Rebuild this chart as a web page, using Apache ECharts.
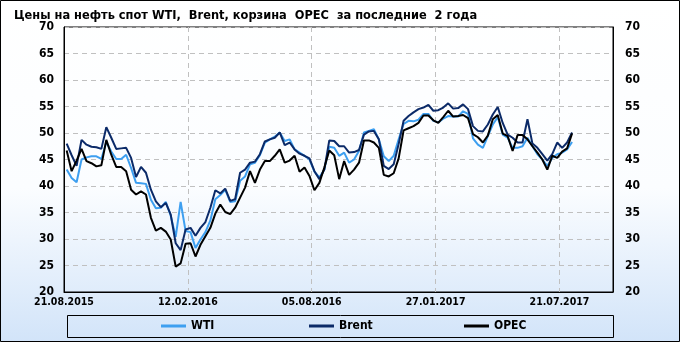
<!DOCTYPE html>
<html><head><meta charset="utf-8">
<script src="https://cdn.jsdelivr.net/npm/echarts@6/dist/echarts.min.js"></script>
<style>html,body{margin:0;padding:0;background:#fff}#c{width:680px;height:342px}</style>
</head><body><div id="c"></div>
<script>
// Weekly spot prices, USD/bbl (first point ~25.08.2015)
const tickLabels = ['21.08.2015','12.02.2016','05.08.2016','27.01.2017','21.07.2017'];
const wti = [43.1,41.5,40.7,45.0,45.4,45.6,45.6,45.1,48.3,46.5,45.1,45.1,45.9,43.4,40.6,40.5,40.4,37.4,35.8,35.9,
  37.0,34.4,30.4,37.0,31.5,31.3,28.3,29.9,31.3,33.5,37.5,38.3,39.3,37.0,37.1,41.0,41.8,44.1,44.4,45.8,
  48.2,48.8,49.3,50.1,48.5,48.8,46.9,46.3,45.7,45.0,42.7,41.6,43.1,47.4,47.2,45.7,46.3,44.4,45.0,46.6,
  50.1,50.4,50.7,48.8,45.6,44.7,45.7,48.8,51.7,52.3,52.2,52.5,53.6,53.6,52.3,52.0,52.7,53.2,53.1,53.1,
  54.1,53.6,49.0,47.8,47.2,49.4,51.6,53.0,49.7,49.1,47.2,47.2,47.5,49.1,47.5,46.0,45.0,43.8,45.3,46.0,
  46.3,46.9,48.3];
const brent = [48.0,45.8,43.8,48.7,47.8,47.4,47.3,47.0,51.1,49.1,47.0,47.1,47.2,45.3,41.7,43.6,42.5,39.3,37.1,36.0,
  36.8,34.6,29.2,27.9,31.8,32.1,30.6,32.1,33.2,35.9,39.2,38.6,39.5,37.2,37.5,42.5,43.1,44.4,44.6,46.0,
  48.4,48.8,49.1,50.1,47.7,48.2,46.9,46.1,45.7,45.2,42.8,41.3,43.1,48.6,48.5,47.5,47.5,46.3,46.4,46.8,
  49.7,50.3,50.4,48.8,43.8,43.2,44.1,47.9,52.3,53.2,53.9,54.5,54.8,55.3,54.2,54.3,54.8,55.6,54.6,54.7,
  55.4,54.5,51.3,50.4,50.3,51.6,53.5,54.9,51.9,49.7,49.1,48.2,48.2,52.6,48.0,47.2,46.0,44.8,46.0,48.2,
  47.2,48.2,50.1];
const opec = [46.7,42.8,44.8,47.0,44.7,44.3,43.7,43.9,48.7,45.9,43.6,43.6,42.8,39.3,38.4,39.0,38.4,34.0,31.6,32.1,
  31.4,29.9,24.8,25.4,29.1,29.2,26.7,28.9,30.5,32.1,34.8,36.5,35.1,34.7,35.9,37.8,39.7,42.8,40.6,43.1,
  44.7,44.7,45.7,46.9,44.4,44.8,45.7,42.7,43.5,41.9,39.2,40.6,43.5,46.7,45.8,41.3,44.7,42.1,43.1,44.4,
  48.6,48.6,48.2,47.2,42.1,41.8,42.4,45.2,50.5,50.9,51.3,51.9,53.3,53.3,52.4,51.9,53.0,54.2,53.1,53.2,
  53.4,52.8,49.8,49.2,48.2,49.5,52.6,53.4,49.9,49.4,46.6,49.6,49.6,48.8,47.5,46.3,45.0,43.1,45.7,45.3,
  46.5,47.1,49.9];
const seriesNames = ['WTI','Brent','OPEC'];
const colors = ['#3d9ff0','#0b2a68','#000000'];

const startOffset = 0.54; // weeks between axis start (21.08.2015) and first observation
const toPairs = arr => arr.map((v, i) => [i + startOffset, v]);

const font = "'DejaVu Sans Condensed','DejaVu Sans',sans-serif";
const chart = echarts.init(document.getElementById('c'), null, {renderer:'canvas'});
const yAxisBase = {
  type:'value', min:20, max:70, interval:5,
  axisLine:{show:true, lineStyle:{color:'#000', width:1}},
  axisTick:{show:false},
  axisLabel:{color:'#000', fontWeight:'bold', fontSize:12, fontFamily:font},
};
chart.setOption({
  animation:false,
  backgroundColor: new echarts.graphic.LinearGradient(0,0,0,1,[
    {offset:0, color:'#ffffff'},{offset:0.55, color:'#fbfdff'},{offset:1, color:'#d2e4f9'}]),
  title:{text:'Цены на нефть спот WTI,  Brent, корзина  OPEC  за последние  2 года',
    left:9, top:4, textStyle:{fontSize:12.7, fontWeight:'bold', color:'#000', fontFamily:"'Liberation Sans Narrow','DejaVu Sans Condensed','DejaVu Sans',sans-serif"}},
  grid:{left:64, right:67, top:27, bottom:50, show:true, borderColor:'#000', borderWidth:1, backgroundColor:'transparent'},
  xAxis:{type:'value', min:0, max:110.8, interval:25,
    axisLine:{show:true, lineStyle:{color:'#000'}}, axisTick:{show:false},
    axisLabel:{color:'#000', fontWeight:'bold', fontSize:10.5, fontFamily:font, margin:5,
      formatter: v => { const k = Math.round(v/25); return (Math.abs(v - k*25) < 1e-6 && tickLabels[k]) ? tickLabels[k] : ''; }},
    splitLine:{show:true, lineStyle:{color:'#c0c0c0', type:[5,4]}}},
  yAxis:[
    Object.assign({}, yAxisBase, {position:'left', axisLabel:Object.assign({}, yAxisBase.axisLabel, {margin:10}),
      splitLine:{show:true, lineStyle:{color:'#c0c0c0', type:[5,4]}}}),
    Object.assign({}, yAxisBase, {position:'right', axisLabel:Object.assign({}, yAxisBase.axisLabel, {margin:12}),
      splitLine:{show:false}})
  ],
  legend: seriesNames.map((n, k) => ({
    data:[n], left:[161,309,464][k], top:320, itemWidth:25, itemHeight:3, icon:'rect',
    textStyle:{color:'#000', fontWeight:'bold', fontSize:12, fontFamily:font}, padding:0
  })),
  graphic:[
    {type:'rect', shape:{x:67.5, y:315.5, width:546, height:22}, style:{fill:'none', stroke:'#000', lineWidth:1}, z:100, silent:true},
    {type:'rect', shape:{x:0.5, y:0.5, width:679, height:341}, style:{fill:'none', stroke:'#000', lineWidth:1}, z:100, silent:true}
  ],
  series:[wti, brent, opec].map((d, k) => ({
    name:seriesNames[k], type:'line', data:toPairs(d), symbol:'none', showSymbol:false,
    lineStyle:{color:colors[k], width:2}, itemStyle:{color:colors[k]}, z:2+k
  }))
});
</script></body></html>
